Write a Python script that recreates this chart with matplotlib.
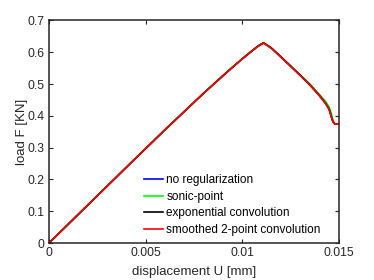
import matplotlib
matplotlib.use('Agg')
import matplotlib.pyplot as plt

plt.rcParams['font.family'] = ['Liberation Sans', 'DejaVu Sans']

# displacement U [mm]
disp = [0, 0.002, 0.004, 0.006, 0.008, 0.009, 0.0095, 0.010, 0.0105, 0.0108,
        0.0111, 0.0115, 0.012, 0.0125, 0.013, 0.0135, 0.014, 0.0143, 0.0145,
        0.0146, 0.0147, 0.0148, 0.015]

# load F [KN] for each regularization
load_none = [0, 0.119, 0.238, 0.356, 0.471, 0.526, 0.553, 0.579, 0.604, 0.618,
             0.629, 0.613, 0.585, 0.556, 0.527, 0.497, 0.463, 0.440, 0.420,
             0.400, 0.380, 0.374, 0.374]
load_sonic = [0, 0.119, 0.238, 0.356, 0.471, 0.526, 0.553, 0.579, 0.604, 0.618,
              0.629, 0.613, 0.585, 0.557, 0.529, 0.500, 0.467, 0.446, 0.428,
              0.410, 0.385, 0.375, 0.375]
load_exp = [0, 0.119, 0.238, 0.356, 0.471, 0.526, 0.553, 0.579, 0.604, 0.619,
            0.630, 0.614, 0.586, 0.557, 0.528, 0.498, 0.464, 0.441, 0.421,
            0.401, 0.381, 0.374, 0.374]
load_smooth = [0, 0.119, 0.238, 0.356, 0.471, 0.526, 0.553, 0.579, 0.604, 0.618,
               0.629, 0.613, 0.585, 0.556, 0.527, 0.497, 0.463, 0.440, 0.420,
               0.400, 0.380, 0.374, 0.374]

labels = ['no regularization', 'sonic-point', 'exponential convolution',
          'smoothed 2-point convolution']
colors = ['#0000ff', '#00ff00', '#000000', '#ff0000']

fig = plt.figure(figsize=(3.74, 2.8), dpi=100)
ax = fig.add_axes([0.131, 0.132, 0.775, 0.795])

for y, lab, c in zip([load_none, load_sonic, load_exp, load_smooth], labels, colors):
    ax.plot(disp, y, color=c, lw=1.2, label=lab)

ax.set_xlim(0, 0.015)
ax.set_ylim(0, 0.7)
ax.set_xticks([0, 0.005, 0.01, 0.015])
ax.set_xticklabels(['0', '0.005', '0.01', '0.015'])
ax.set_yticks([0, 0.1, 0.2, 0.3, 0.4, 0.5, 0.6, 0.7])
ax.set_yticklabels(['0', '0.1', '0.2', '0.3', '0.4', '0.5', '0.6', '0.7'])

axc = '#262626'
for s in ax.spines.values():
    s.set_color(axc)
    s.set_linewidth(1.1)
ax.tick_params(direction='in', length=3, width=0.8, colors=axc, labelsize=8.7,
               top=True, right=True, pad=3)
ax.set_xlabel('displacement U [mm]', fontsize=9.5, color=axc, labelpad=5)
ax.set_ylabel('load F [KN]', fontsize=9.5, color=axc, labelpad=0)

ax.legend(loc='lower left', bbox_to_anchor=(0.305, 0.0), frameon=False,
          fontsize=8.5, handlelength=1.6, handletextpad=0.25, labelspacing=0.38,
          borderaxespad=0.2)

fig.savefig('out.png', dpi=100)
